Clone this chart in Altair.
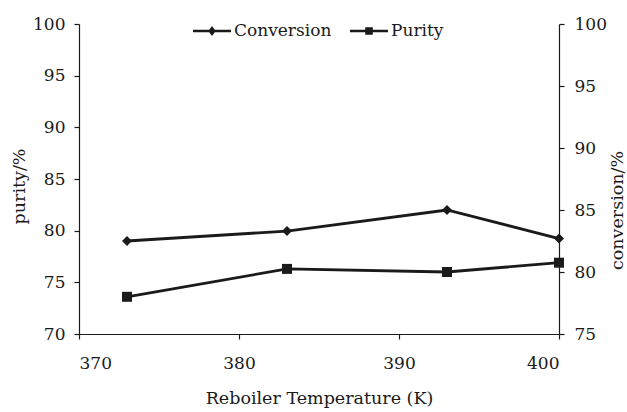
import altair as alt
import pandas as pd

# ---- data ----
temps = [373, 383, 393, 400]
purity = [73.6, 76.3, 76.0, 76.9]
conversion = [82.5, 83.3, 85.0, 82.7]
series_names = ["Conversion", "Purity"]
x_ticks = [370, 380, 390, 400]
left_ticks = [70, 75, 80, 85, 90, 95, 100]
right_ticks = [75, 80, 85, 90, 95, 100]

df_p = pd.DataFrame({"T": temps, "value": purity, "series": "Purity"})
df_c = pd.DataFrame({"T": temps, "value": conversion, "series": "Conversion"})

FONT = "DejaVu Serif"
INK = "#1a1a1a"

# legend glyphs: a short line with a marker in the middle
PATH_DIAMOND = "M-1,-0.065H1V0.065H-1Z M0,-0.26L0.2,0L0,0.26L-0.2,0Z"
PATH_SQUARE = "M-1,-0.065H1V0.065H-1Z M-0.2,-0.2H0.2V0.2H-0.2Z"

x_enc = alt.X(
    "T:Q",
    scale=alt.Scale(domain=[370, 400], nice=False, zero=False),
    axis=alt.Axis(values=x_ticks, title="Reboiler Temperature (K)",
                  labelPadding=16, titlePadding=18),
)
yl_enc = alt.Y(
    "value:Q",
    scale=alt.Scale(domain=[70, 100], nice=False, zero=False),
    axis=alt.Axis(values=left_ticks, title="purity/%", orient="left",
                  labelPadding=9, titlePadding=4, titleY=162),
)
yr_enc = alt.Y(
    "value:Q",
    scale=alt.Scale(domain=[75, 100], nice=False, zero=False),
    axis=alt.Axis(values=right_ticks, title="conversion/%", orient="right",
                  labelPadding=10, titlePadding=20, titleAngle=270, titleY=186),
)

shape_enc = alt.Shape(
    "series:N",
    scale=alt.Scale(domain=series_names, range=[PATH_DIAMOND, PATH_SQUARE]),
    legend=alt.Legend(
        title=None, orient="none", legendX=114, legendY=-12,
        direction="horizontal", symbolSize=1444, symbolFillColor=INK,
        symbolStrokeWidth=0, symbolOpacity=1, labelFont=FONT,
        labelFontSize=17, labelColor=INK, columnPadding=18, labelOffset=3,
        padding=0,
    ),
)

line_p = alt.Chart(df_p).mark_line(color=INK, strokeWidth=2.8).encode(x=x_enc, y=yl_enc)
pts_p = alt.Chart(df_p).mark_point(shape="square", filled=True, size=100, color=INK,
                                   opacity=1).encode(x=x_enc, y=yl_enc)
leg = alt.Chart(df_p).mark_point(filled=True, opacity=0, color=INK).encode(
    x=x_enc, y=yl_enc, shape=shape_enc)

line_c = alt.Chart(df_c).mark_line(color=INK, strokeWidth=2.8).encode(x=x_enc, y=yr_enc)
pts_c = alt.Chart(df_c).mark_point(shape="diamond", filled=True, size=100, color=INK,
                                   opacity=1).encode(x=x_enc, y=yr_enc)

left = alt.layer(line_p, pts_p, leg)
right = alt.layer(line_c, pts_c)

chart = (
    alt.layer(left, right)
    .resolve_scale(y="independent")
    .properties(
        width=480, height=310, autosize="none",
        padding={"left": 79, "top": 24, "right": 68, "bottom": 78},
        background="white",
    )
    .configure_view(stroke=None)
    .configure_axis(
        grid=False, domainColor=INK, tickColor=INK, labelColor=INK,
        titleColor=INK, labelFont=FONT, titleFont=FONT, labelFontSize=17,
        titleFontSize=17.5, titleFontWeight="normal", tickSize=5,
        domainWidth=1.2, tickWidth=1.2,
    )
)

chart.save("out.html", embed_options={"renderer": "svg", "actions": False})
